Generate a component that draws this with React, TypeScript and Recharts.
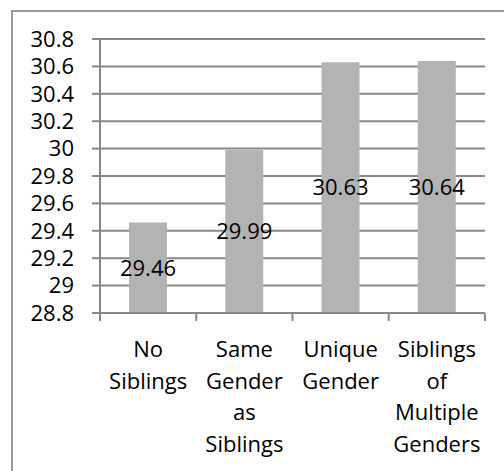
import React from 'react';
import { BarChart, Bar, XAxis, YAxis, CartesianGrid, LabelList } from 'recharts';

const categories = ['No Siblings', 'Same Gender as Siblings', 'Unique Gender', 'Siblings of Multiple Genders'];
const values = [29.46, 29.99, 30.63, 30.64];
const yTicks = [28.8, 29, 29.2, 29.4, 29.6, 29.8, 30, 30.2, 30.4, 30.6, 30.8];

const data = categories.map((c, i) => ({ name: c, value: values[i] }));

const FONT = 'Open Sans';
const GRID = '#888888';

const XTick = (props: any) => {
  const { x, y, payload, index } = props;
  const half = payload && typeof payload.offset === 'number' && payload.offset > 0 ? payload.offset : 48.125;
  const words = String(payload.value).split(' ');
  const n = categories.length;
  return (
    <g>
      <line x1={x - half} y1={y} x2={x - half} y2={y + 8} stroke={GRID} strokeWidth={2} />
      {index === n - 1 && (
        <line x1={x + half} y1={y} x2={x + half} y2={y + 8} stroke={GRID} strokeWidth={2} />
      )}
      <text x={x} y={y + 44} textAnchor="middle" fill="#000" fontFamily={FONT} fontSize={22}>
        {words.map((w, i) => (
          <tspan key={i} x={x} dy={i === 0 ? 0 : 31.5}>{w}</tspan>
        ))}
      </text>
    </g>
  );
};

const fmt = (v: number) => String(Number(v.toFixed(1)));

export default function App() {
  return (
    <div style={{ position: 'absolute', left: 0, top: 0, width: 504, height: 471, overflow: 'hidden', background: '#fff' }}>
      <div style={{ position: 'absolute', left: 11, top: 10, width: 520, height: 500, borderLeft: '2px solid #999', borderTop: '2px solid #999' }} />
      <div style={{ position: 'absolute', left: 0, top: 0 }}>
        <BarChart width={504} height={471} data={data} margin={{ top: 39, right: 19, left: 0, bottom: 0 }}>
          <CartesianGrid vertical={false} stroke={GRID} strokeWidth={2} />
          <XAxis
            dataKey="name"
            height={158}
            interval={0}
            tickLine={false}
            tickSize={0}
            tickMargin={0}
            axisLine={{ stroke: GRID, strokeWidth: 2 }}
            tick={<XTick />}
          />
          <YAxis
            domain={[28.8, 30.8]}
            ticks={yTicks}
            interval={0}
            width={100}
            tickSize={8}
            tickMargin={18}
            tickFormatter={fmt}
            tickLine={{ stroke: GRID, strokeWidth: 2 }}
            axisLine={{ stroke: GRID, strokeWidth: 2 }}
            tick={{ fill: '#000', fontFamily: FONT, fontSize: 22 }}
            allowDataOverflow
          />
          <Bar dataKey="value" fill="#b3b3b3" barSize={38} isAnimationActive={false}>
            <LabelList dataKey="value" position="center" fill="#000" fontFamily={FONT} fontSize={22} />
          </Bar>
        </BarChart>
      </div>
    </div>
  );
}
